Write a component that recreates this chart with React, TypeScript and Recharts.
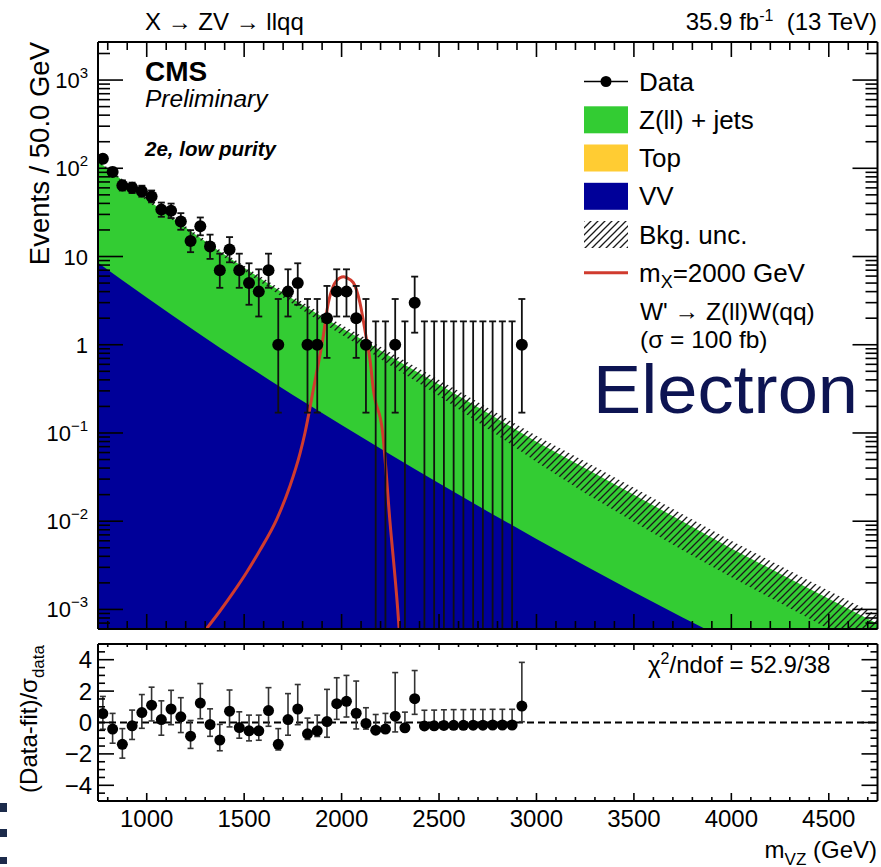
import React from "react";
import {
  ComposedChart,
  Area,
  Line,
  Scatter,
  ErrorBar,
  XAxis,
  YAxis,
  ReferenceLine,
} from "recharts";

const FONT = '"Liberation Sans", Arial, Helvetica, sans-serif';
const W = 881;
const H = 867;

// frame edges of the two pads
const PLOT_L = 98;
const PLOT_R = 877.5;
const TOP_T = 42;
const TOP_B = 629;
const RAT_T = 644;
const RAT_B = 801;
const AX = 1; // axis band thickness (an axis of size 0 is not drawn)

const X_MIN = 750;
const X_MAX = 4750;
const Y_MIN = 6e-4;
const Y_MAX = 2700;

// observed events, 50 GeV bins (bin centres)
const binCentres = [
  775, 825, 875, 925, 975, 1025, 1075, 1125, 1175, 1225, 1275, 1325, 1375, 1425,
  1475, 1525, 1575, 1625, 1675, 1725, 1775, 1825, 1875, 1925, 1975, 2025, 2075,
  2125, 2175, 2225, 2275, 2325, 2375, 2425, 2475, 2525, 2575, 2625, 2675, 2725,
  2775, 2825, 2875, 2925,
];
const dataCounts = [
  128, 91, 64, 60, 55, 48, 34, 33, 25, 15, 22, 13, 7, 12, 7, 5, 4, 7, 1, 4, 5, 1,
  1, 2, 4, 4, 2, 1, 0, 0, 1, 0, 3, 0, 0, 0, 0, 0, 0, 0, 0, 0, 0, 1,
];
const dataErrLo = [
  11.3, 9.5, 8.0, 7.7, 7.4, 6.9, 5.8, 5.7, 4.9, 3.8, 4.6, 3.6, 2.58, 3.4, 2.58,
  2.16, 1.91, 2.58, 0.83, 1.91, 2.16, 0.83, 0.83, 1.29, 1.91, 1.91, 1.29, 0.83,
  0, 0, 0.83, 0, 1.63, 0, 0, 0, 0, 0, 0, 0, 0, 0, 0, 0.83,
];
const dataErrHi = [
  12.3, 10.5, 9.0, 8.8, 8.5, 8.0, 6.9, 6.8, 6.0, 4.9, 5.7, 4.7, 3.77, 4.6, 3.77,
  3.38, 3.16, 3.77, 2.3, 3.16, 3.38, 2.3, 2.3, 2.64, 3.16, 3.16, 2.64, 2.3, 1.84,
  1.84, 2.3, 1.84, 2.92, 1.84, 1.84, 1.84, 1.84, 1.84, 1.84, 1.84, 1.84, 1.84,
  1.84, 2.3,
];

// (data - fit) / sigma_data
const pulls = [
  0.57, -0.42, -1.39, -0.21, 0.63, 1.1, 0.19, 0.86, 0.36, -0.87, 1.24, -0.13,
  -1.12, 0.72, -0.32, -0.53, -0.53, 0.76, -1.39, 0.19, 0.86, -0.72, -0.53, 0.06,
  1.2, 1.35, 0.59, -0.06, -0.49, -0.42, 0.4, -0.34, 1.52, -0.22, -0.21, -0.19,
  -0.18, -0.18, -0.17, -0.17, -0.16, -0.16, -0.16, 1.05,
];
const pullErrLo = [
  1, 0.9, 0.88, 0.87, 1, 1, 1, 1, 1, 0.78, 1, 0.75, 0.68, 1, 0.68, 0.64, 0.6, 1,
  0.36, 1, 1, 0.36, 0.36, 1, 1, 1, 1, 0.36, 0, 0, 1, 0, 1, 0, 0, 0, 0, 0, 0, 0, 0,
  0, 0, 1,
];
const pullErrHi = [
  1.09, 1, 1, 1, 1.15, 1.15, 1.19, 1.19, 1.22, 1, 1.24, 1, 1, 1.35, 1, 1, 1, 1.46,
  1, 1.65, 1.56, 1, 1, 2.05, 1.65, 1.65, 2.05, 1, 1, 1, 2.78, 1, 1.79, 1, 1, 1, 1,
  1, 1, 1, 1, 1, 1, 2.78,
];

// background fit: stacked total (Z+jets on top of VV), VV alone, uncertainty band
const bkgMass = [
  750, 875, 1000, 1125, 1250, 1375, 1500, 1625, 1750, 1875, 2000, 2125, 2250,
  2375, 2500, 2750, 3000, 3250, 3500, 3750, 4000, 4250, 4500, 4750,
];
const bkgTotal = [
  120, 73.3, 45.0, 28.05, 17.8, 11.43, 7.45, 4.92, 3.3, 2.24, 1.55, 1.084, 0.738,
  0.51, 0.355, 0.168, 0.0794, 0.0398, 0.02, 0.00989, 0.0049, 0.00254, 0.00132,
  0.00069,
];
const bkgVV = [
  8.51, 5.4, 3.44, 2.2, 1.42, 0.927, 0.61, 0.405, 0.27, 0.182, 0.123, 0.0836,
  0.057, 0.0391, 0.0269, 0.0129, 0.0063, 0.00313, 0.00158, 0.00081, 0.000427,
  0.000229, 0.000126, 0.0000692,
];
const bkgUncUp = [
  123.6, 75.5, 46.35, 29.03, 18.51, 11.94, 7.85, 5.22, 3.53, 2.42, 1.68, 1.187,
  0.815, 0.569, 0.401, 0.193, 0.0929, 0.0474, 0.024, 0.012, 0.006, 0.00312,
  0.00163, 0.00086,
];
const bkgUncDown = [
  115.2, 70.4, 42.98, 26.65, 16.73, 10.63, 6.85, 4.43, 2.9, 1.915, 1.3, 0.883,
  0.583, 0.393, 0.262, 0.112, 0.047, 0.0208, 0.0098, 0.0047, 0.00232, 0.00118,
  0.0006, 0.00031,
];

// W' signal, m_X = 2000 GeV, sigma = 100 fb
const sigMass = [
  1308, 1376, 1444, 1513, 1581, 1667, 1735, 1787, 1812, 1855, 1906, 1932, 1957,
  1992, 2010, 2026, 2060, 2094, 2125, 2146, 2163, 2211, 2248, 2288, 2295,
];
const sigYield = [
  6.1e-4, 9.6e-4, 1.56e-3, 2.64e-3, 4.68e-3, 1.05e-2, 0.025, 0.059, 0.1, 0.311,
  1.25, 3.0, 4.6, 5.75, 5.9, 5.75, 5.05, 3.0, 1.25, 0.667, 0.31, 0.1, 0.01,
  1.0e-3, 6.1e-4,
];

// axis ticks
const xMajor = [1000, 1500, 2000, 2500, 3000, 3500, 4000, 4500];
const logMajor = [1e-3, 1e-2, 1e-1, 1, 10, 100, 1000];
const pullMajor = [-4, -2, 0, 2, 4];

const xTicks: number[] = [];
for (let v = 800; v <= 4700; v += 100) xTicks.push(v);

const logTicks: number[] = [];
[1e-4, ...logMajor].forEach((d) => {
  for (let k = 1; k <= 9; k++) {
    const v = +(k * d).toPrecision(6);
    if (v >= Y_MIN && v <= Y_MAX) logTicks.push(v);
  }
});

const pullTicks: number[] = [];
for (let v = -4.5; v <= 4.5; v += 0.5) pullTicks.push(v);

// tables for the library
const masses = Array.from(new Set([...bkgMass, ...sigMass])).sort((a, b) => a - b);
const topRows = masses.map((m) => {
  const i = bkgMass.indexOf(m);
  const j = sigMass.indexOf(m);
  return {
    m,
    total: i >= 0 ? bkgTotal[i] : undefined,
    vv: i >= 0 ? bkgVV[i] : undefined,
    unc: i >= 0 ? [bkgUncDown[i], bkgUncUp[i]] : undefined,
    sig: j >= 0 ? sigYield[j] : undefined,
  };
});

// empty bins keep only their upper bar, which starts at the pad floor
const dataRows = binCentres.map((m, i) => {
  const n = dataCounts[i];
  return {
    m,
    n,
    y: n > 0 ? n : Y_MIN,
    err: n > 0 ? [dataErrLo[i], dataErrHi[i]] : [0, dataErrHi[i] - Y_MIN],
  };
});

const pullRows = binCentres.map((m, i) => ({
  m,
  pull: pulls[i],
  perr: [pullErrLo[i], pullErrHi[i]],
}));

const TICK = { stroke: "#000", strokeWidth: 1.6 };

const decadeLabel = (v: number) => {
  const e = Math.round(Math.log10(v));
  if (e === 0) return { base: "1", exp: null };
  if (e === 1) return { base: "10", exp: null };
  return { base: "10", exp: e < 0 ? `\u2212${-e}` : `${e}` };
};

const xTick =
  (edge: number, dir: number, majorLen: number, minorLen: number, labelY?: number) =>
  (props: any) => {
    const v = props.payload.value;
    const x = props.x;
    const major = xMajor.includes(v);
    const len = major ? majorLen : minorLen;
    return (
      <g>
        <line x1={x} x2={x} y1={edge} y2={edge + dir * len} {...TICK} />
        {major && labelY !== undefined ? (
          <text x={x} y={labelY} textAnchor="middle" fontSize={24} fontFamily={FONT} fill="#000">
            {v}
          </text>
        ) : null}
      </g>
    );
  };

const logTick = (edge: number, dir: number, withLabel: boolean) => (props: any) => {
  const v = props.payload.value;
  const y = props.y;
  const major = logMajor.includes(v);
  const len = major ? 25 : 12;
  const lab = decadeLabel(v);
  return (
    <g>
      <line x1={edge} x2={edge + dir * len} y1={y} y2={y} {...TICK} />
      {major && withLabel ? (
        <text x={88} y={y + 8} textAnchor="end" fontSize={22} fontFamily={FONT} fill="#000">
          {lab.base}
          {lab.exp ? (
            <tspan dy={-10} fontSize={15}>
              {lab.exp}
            </tspan>
          ) : null}
        </text>
      ) : null}
    </g>
  );
};

const pullTick = (edge: number, dir: number, withLabel: boolean) => (props: any) => {
  const v = props.payload.value;
  const y = props.y;
  const major = pullMajor.includes(v);
  const len = major ? 16 : 7;
  return (
    <g>
      <line x1={edge} x2={edge + dir * len} y1={y} y2={y} {...TICK} />
      {major && withLabel ? (
        <text x={92} y={y + 8.5} textAnchor="end" fontSize={24} fontFamily={FONT} fill="#000">
          {v < 0 ? `\u2212${-v}` : `${v}`}
        </text>
      ) : null}
    </g>
  );
};

const DataDot = (p: any) =>
  p.payload.n > 0 ? <circle cx={p.cx} cy={p.cy} r={6} fill="#000" /> : <g />;
const PullDot = (p: any) => <circle cx={p.cx} cy={p.cy} r={5.5} fill="#000" />;

const FRAME = { stroke: "#000", strokeWidth: 2 };

// legend rows (baselines)
const legendRows = [90.5, 128.8, 167, 205.3, 243.5, 281.8];

export default function App() {
  return (
    <div
      style={{
        position: "absolute",
        left: 0,
        top: 0,
        width: W,
        height: H,
        background: "#fff",
        overflow: "hidden",
      }}
    >
      {/* upper pad: stacked background, signal and data */}
      <div style={{ position: "absolute", left: 0, top: 0 }}>
        <ComposedChart
          width={W}
          height={H}
          data={topRows}
          margin={{
            top: TOP_T - AX,
            right: W - PLOT_R - AX,
            bottom: H - TOP_B - AX,
            left: PLOT_L - AX,
          }}
        >
          <Area
            type="linear"
            dataKey="total"
            fill="#33cc33"
            fillOpacity={1}
            stroke="none"
            connectNulls
            dot={false}
            activeDot={false}
            isAnimationActive={false}
          />
          <Area
            type="linear"
            dataKey="vv"
            fill="#000099"
            fillOpacity={1}
            stroke="none"
            connectNulls
            dot={false}
            activeDot={false}
            isAnimationActive={false}
          />
          <Area
            type="linear"
            dataKey="unc"
            fill="url(#bkgHatch)"
            fillOpacity={1}
            stroke="none"
            connectNulls
            dot={false}
            activeDot={false}
            isAnimationActive={false}
          />
          <Line
            type="monotone"
            dataKey="sig"
            stroke="#d03b2e"
            strokeWidth={3}
            dot={false}
            activeDot={false}
            connectNulls
            isAnimationActive={false}
          />
          <Scatter data={dataRows} dataKey="y" shape={DataDot} isAnimationActive={false}>
            <ErrorBar dataKey="err" direction="y" width={3.5} stroke="#111" strokeWidth={1.8} />
          </Scatter>
          <XAxis
            type="number"
            dataKey="m"
            domain={[X_MIN, X_MAX]}
            allowDataOverflow
            ticks={xTicks}
            interval={0}
            height={AX}
            tickLine={false}
            axisLine={FRAME}
            tick={xTick(TOP_B, -1, 15, 8)}
          />
          <XAxis
            xAxisId="top"
            orientation="top"
            type="number"
            dataKey="m"
            domain={[X_MIN, X_MAX]}
            allowDataOverflow
            ticks={xTicks}
            interval={0}
            height={AX}
            tickLine={false}
            axisLine={FRAME}
            tick={xTick(TOP_T, 1, 15, 8)}
          />
          <YAxis
            type="number"
            scale="log"
            domain={[Y_MIN, Y_MAX]}
            allowDataOverflow
            ticks={logTicks}
            interval={0}
            width={AX}
            tickLine={false}
            axisLine={FRAME}
            tick={logTick(PLOT_L, 1, true)}
          />
          <YAxis
            yAxisId="right"
            orientation="right"
            type="number"
            scale="log"
            domain={[Y_MIN, Y_MAX]}
            allowDataOverflow
            ticks={logTicks}
            interval={0}
            width={AX}
            tickLine={false}
            axisLine={FRAME}
            tick={logTick(PLOT_R, -1, false)}
          />
        </ComposedChart>
      </div>

      {/* lower pad: pulls */}
      <div style={{ position: "absolute", left: 0, top: 0 }}>
        <ComposedChart
          width={W}
          height={H}
          data={pullRows}
          margin={{
            top: RAT_T - AX,
            right: W - PLOT_R - AX,
            bottom: H - RAT_B - AX,
            left: PLOT_L - AX,
          }}
        >
          <ReferenceLine y={0} stroke="#000" strokeWidth={2} strokeDasharray="7 4" />
          <Scatter dataKey="pull" shape={PullDot} isAnimationActive={false}>
            <ErrorBar dataKey="perr" direction="y" width={3} stroke="#333" strokeWidth={1.6} />
          </Scatter>
          <XAxis
            type="number"
            dataKey="m"
            domain={[X_MIN, X_MAX]}
            allowDataOverflow
            ticks={xTicks}
            interval={0}
            height={AX}
            tickLine={false}
            axisLine={FRAME}
            tick={xTick(RAT_B, -1, 8, 4, 826.5)}
          />
          <XAxis
            xAxisId="top"
            orientation="top"
            type="number"
            dataKey="m"
            domain={[X_MIN, X_MAX]}
            allowDataOverflow
            ticks={xTicks}
            interval={0}
            height={AX}
            tickLine={false}
            axisLine={FRAME}
            tick={xTick(RAT_T, 1, 6, 3)}
          />
          <YAxis
            type="number"
            domain={[-5, 5]}
            allowDataOverflow
            ticks={pullTicks}
            interval={0}
            width={AX}
            tickLine={false}
            axisLine={FRAME}
            tick={pullTick(PLOT_L, 1, true)}
          />
          <YAxis
            yAxisId="right"
            orientation="right"
            type="number"
            domain={[-5, 5]}
            allowDataOverflow
            ticks={pullTicks}
            interval={0}
            width={AX}
            tickLine={false}
            axisLine={FRAME}
            tick={pullTick(PLOT_R, -1, false)}
          />
        </ComposedChart>
      </div>

      {/* titles, labels and legend */}
      <svg
        width={W}
        height={H}
        style={{ position: "absolute", left: 0, top: 0, pointerEvents: "none" }}
        fontFamily={FONT}
      >
        <defs>
          <pattern id="bkgHatch" patternUnits="userSpaceOnUse" width={7} height={7}>
            <path d="M-1,1 L1,-1 M0,7 L7,0 M6,8 L8,6" stroke="#1a1a1a" strokeWidth={1.3} />
          </pattern>
        </defs>

        <text x={145} y={30} fontSize={24}>
          X {"\u2192"} ZV {"\u2192"} llqq
        </text>
        <text x={877} y={30} fontSize={24} textAnchor="end">
          35.9 fb
          <tspan dy={-9} fontSize={16}>
            -1
          </tspan>
          <tspan dy={9}>{"\u00a0 (13 TeV)"}</tspan>
        </text>

        <text x={145} y={80.5} fontSize={28} fontWeight="bold">
          CMS
        </text>
        <text x={145} y={106.5} fontSize={24.5} fontStyle="italic">
          Preliminary
        </text>
        <text x={145} y={156} fontSize={20.5} fontWeight="bold" fontStyle="italic">
          2e, low purity
        </text>

        {/* legend */}
        <line x1={584} x2={628} y1={legendRows[0] - 9} y2={legendRows[0] - 9} stroke="#000" strokeWidth={1.6} />
        <circle cx={606} cy={legendRows[0] - 9} r={5.5} fill="#000" />
        <rect x={584} y={legendRows[1] - 22.5} width={44} height={27} fill="#33cc33" />
        <rect x={584} y={legendRows[2] - 22.5} width={44} height={27} fill="#ffcc33" />
        <rect x={584} y={legendRows[3] - 22.5} width={44} height={27} fill="#000099" />
        <rect x={584} y={legendRows[4] - 22.5} width={44} height={27} fill="url(#bkgHatch)" />
        <line x1={584} x2={628} y1={legendRows[5] - 9} y2={legendRows[5] - 9} stroke="#d03b2e" strokeWidth={3} />
        <text x={639} y={legendRows[0]} fontSize={26}>Data</text>
        <text x={639} y={legendRows[1]} fontSize={26}>Z(ll) + jets</text>
        <text x={639} y={legendRows[2]} fontSize={26}>Top</text>
        <text x={639} y={legendRows[3]} fontSize={26}>VV</text>
        <text x={639} y={legendRows[4]} fontSize={26}>Bkg. unc.</text>
        <text x={639} y={legendRows[5]} fontSize={26}>
          m
          <tspan dy={6} fontSize={18}>X</tspan>
          <tspan dy={-6}>=2000 GeV</tspan>
        </text>
        <text x={640} y={319.5} fontSize={24.5}>
          W' {"\u2192"} Z(ll)W(qq)
        </text>
        <text x={640} y={347.5} fontSize={24.5}>
          ({"\u03c3"} = 100 fb)
        </text>

        <text x={593} y={413} fontSize={69} fill="#0d1452" textLength={265} lengthAdjust="spacingAndGlyphs">
          Electron
        </text>

        <text x={648} y={673} fontSize={24}>
          {"\u03c7"}
          <tspan dy={-9} fontSize={16}>2</tspan>
          <tspan dy={9}>/ndof = 52.9/38</tspan>
        </text>

        {/* axis titles */}
        <text transform="translate(49,42) rotate(-90)" textAnchor="end" fontSize={27.5}>
          Events / 50.0 GeV
        </text>
        <text transform="translate(37,645) rotate(-90)" textAnchor="end" fontSize={24}>
          (Data-fit)/{"\u03c3"}
          <tspan dy={7} fontSize={17}>data</tspan>
        </text>
        <text x={877} y={857.5} textAnchor="end" fontSize={24}>
          m
          <tspan dy={7} fontSize={17}>VZ</tspan>
          <tspan dy={-7}> (GeV)</tspan>
        </text>

        <rect x={0} y={803} width={7} height={9} fill="#1c2b4b" />
        <rect x={0} y={829} width={7} height={8} fill="#1c2b4b" />
        <rect x={0} y={857} width={7} height={7} fill="#1c2b4b" />
      </svg>
    </div>
  );
}
